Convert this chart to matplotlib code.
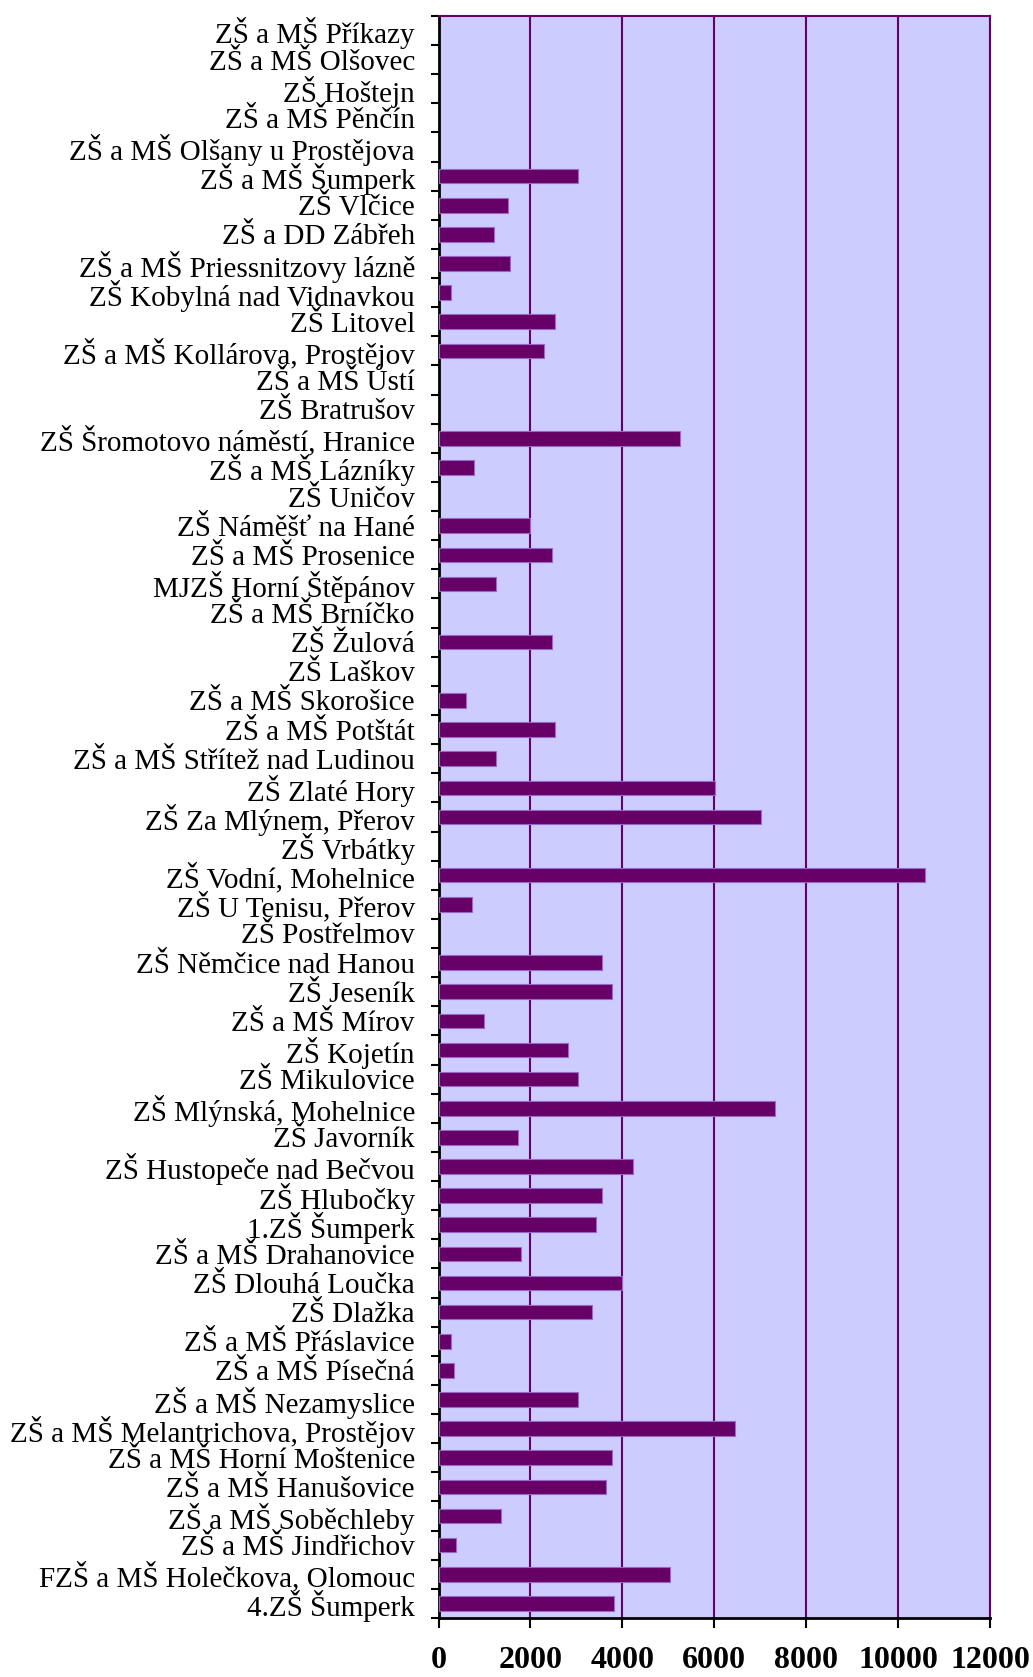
import numpy as np
import matplotlib
matplotlib.use("Agg")
import matplotlib.pyplot as plt

# schools, top to bottom as in the chart
schools = [
    "ZŠ a MŠ Příkazy", "ZŠ a MŠ Olšovec", "ZŠ Hoštejn", "ZŠ a MŠ Pěnčín",
    "ZŠ a MŠ Olšany u Prostějova", "ZŠ a MŠ Šumperk", "ZŠ Vlčice",
    "ZŠ a DD Zábřeh", "ZŠ a MŠ Priessnitzovy lázně", "ZŠ Kobylná nad Vidnavkou",
    "ZŠ Litovel", "ZŠ a MŠ Kollárova, Prostějov", "ZŠ a MŠ Ústí", "ZŠ Bratrušov",
    "ZŠ Šromotovo náměstí, Hranice", "ZŠ a MŠ Lázníky", "ZŠ Uničov",
    "ZŠ Náměšť na Hané", "ZŠ a MŠ Prosenice", "MJZŠ Horní Štěpánov",
    "ZŠ a MŠ Brníčko", "ZŠ Žulová", "ZŠ Laškov", "ZŠ a MŠ Skorošice",
    "ZŠ a MŠ Potštát", "ZŠ a MŠ Střítež nad Ludinou", "ZŠ Zlaté Hory",
    "ZŠ Za Mlýnem, Přerov", "ZŠ Vrbátky", "ZŠ Vodní, Mohelnice",
    "ZŠ U Tenisu, Přerov", "ZŠ Postřelmov", "ZŠ Němčice nad Hanou",
    "ZŠ Jeseník", "ZŠ a MŠ Mírov", "ZŠ Kojetín", "ZŠ Mikulovice",
    "ZŠ Mlýnská, Mohelnice", "ZŠ Javorník", "ZŠ Hustopeče nad Bečvou",
    "ZŠ Hlubočky", "1.ZŠ Šumperk", "ZŠ a MŠ Drahanovice", "ZŠ Dlouhá Loučka",
    "ZŠ Dlažka", "ZŠ a MŠ Přáslavice", "ZŠ a MŠ Písečná",
    "ZŠ a MŠ Nezamyslice", "ZŠ a MŠ Melantrichova, Prostějov",
    "ZŠ a MŠ Horní Moštenice", "ZŠ a MŠ Hanušovice", "ZŠ a MŠ Soběchleby",
    "ZŠ a MŠ Jindřichov", "FZŠ a MŠ Holečkova, Olomouc", "4.ZŠ Šumperk",
]

values = [
    0, 0, 0, 0,
    0, 3030, 1515,
    1200, 1550, 280,
    2545, 2300, 0, 0,
    5250, 775, 0,
    1980, 2460, 1250,
    0, 2460, 0, 595,
    2545, 1250, 6025,
    7020, 0, 10580,
    725, 0, 3550,
    3770, 980, 2810, 3030,
    7330, 1720, 4240,
    3550, 3420, 1805, 3990,
    3330, 280, 330,
    3030, 6450,
    3770, 3635, 1370,
    375, 5025, 3810,
]

xticks = [0, 2000, 4000, 6000, 8000, 10000, 12000]

purple = "#660066"

plt.rcParams["font.family"] = ["Liberation Serif", "DejaVu Serif"]

fig = plt.figure(figsize=(10.33, 16.77), dpi=100)
ax = fig.add_axes([0.4245, 0.0352, 0.534, 0.9553])
ax.set_facecolor("#CCCCFF")

y = np.arange(len(schools))
# no outline for empty bars, so nothing shows at zero
edges = ["#9966CC" if v > 0 else "none" for v in values]
ax.barh(y, values, height=0.5, color=purple, edgecolor=edges,
        linewidth=0.8, zorder=3)

ax.set_xlim(0, 12000)
ax.set_ylim(len(schools) - 0.5, -0.5)

ax.set_xticks(xticks)
ax.set_xticklabels([str(t) for t in xticks], fontsize=23, fontweight="bold")
ax.xaxis.grid(True, color=purple, linewidth=1.5, zorder=1)
ax.set_axisbelow(True)

ax.set_yticks(y)
ax.set_yticklabels(schools, fontsize=21)
ax.set_yticks(np.arange(len(schools) + 1) - 0.5, minor=True)
ax.tick_params(axis="y", which="major", length=0, pad=17)
ax.tick_params(axis="y", which="minor", length=6, width=1.5, color="black")
ax.tick_params(axis="x", which="major", length=7, width=1.5, color="black",
               pad=13)

ax.spines["left"].set_color("black")
ax.spines["left"].set_linewidth(2)
ax.spines["bottom"].set_color("black")
ax.spines["bottom"].set_linewidth(2)
ax.spines["top"].set_color(purple)
ax.spines["top"].set_linewidth(1.5)
ax.spines["right"].set_color(purple)
ax.spines["right"].set_linewidth(1.5)

fig.savefig("out.png", dpi=100)
